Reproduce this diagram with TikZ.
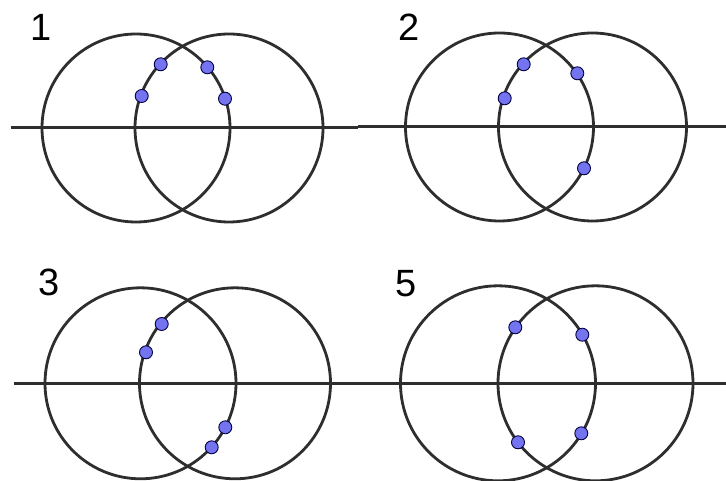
\documentclass[tikz,border=0pt]{standalone}
\usepackage{fontspec}
\setmainfont{Liberation Sans}
\begin{document}
\begin{tikzpicture}[x=1pt,y=-1pt,
  ring/.style={draw=black!82, line width=2.8pt},
  axis/.style={draw=black!82, line width=2.8pt},
  pt/.style={circle, draw=blue!25!black, line width=0.9pt, fill=dotblue, minimum size=13pt, inner sep=0pt},
  lab/.style={inner sep=0pt, font=\fontsize{38}{38}\selectfont}]
\definecolor{dotblue}{HTML}{7474F0}
\useasboundingbox (0,0) rectangle (726,481);
% panel 1
\draw[axis] (11,127.6) -- (358,127.6);
\draw[ring] (136,128) circle (94);
\draw[ring] (229,128) circle (94);
\node[lab] (l1) at (41.5,27) {1};
\node[pt] (a1) at (160.7,64.3) {};
\node[pt] (a2) at (207.3,67.3) {};
\node[pt] (a3) at (141.7,96) {};
\node[pt] (a4) at (225,98.7) {};
% panel 2
\draw[axis] (358,126.5) -- (726,126.5);
\draw[ring] (499.5,127) circle (94);
\draw[ring] (592.5,127) circle (94);
\node[lab] (l2) at (409.3,27.7) {2};
\node[pt] (b1) at (523.7,64.3) {};
\node[pt] (b2) at (577.3,73.3) {};
\node[pt] (b3) at (504.7,98.3) {};
\node[pt] (b4) at (584,168.3) {};
% panel 3
\draw[axis] (14,383.3) -- (363,383.3);
\draw[ring] (140.5,383.3) circle (95.5);
\draw[ring] (235,383.3) circle (95.5);
\node[lab] (l3) at (48.8,282.5) {3};
\node[pt] (c1) at (161.7,324) {};
\node[pt] (c2) at (146,352.3) {};
\node[pt] (c3) at (225.3,427.3) {};
\node[pt] (c4) at (211.7,447.3) {};
% panel 5
\draw[axis] (363,383.3) -- (726,383.3);
\draw[ring] (498,383.3) circle (97.5);
\draw[ring] (595.5,383.3) circle (97.5);
\node[lab] (l5) at (405.8,283.3) {5};
\node[pt] (d1) at (515.3,327.3) {};
\node[pt] (d2) at (582.3,334.7) {};
\node[pt] (d3) at (518,442.3) {};
\node[pt] (d4) at (581.3,433.3) {};
\end{tikzpicture}
\end{document}
